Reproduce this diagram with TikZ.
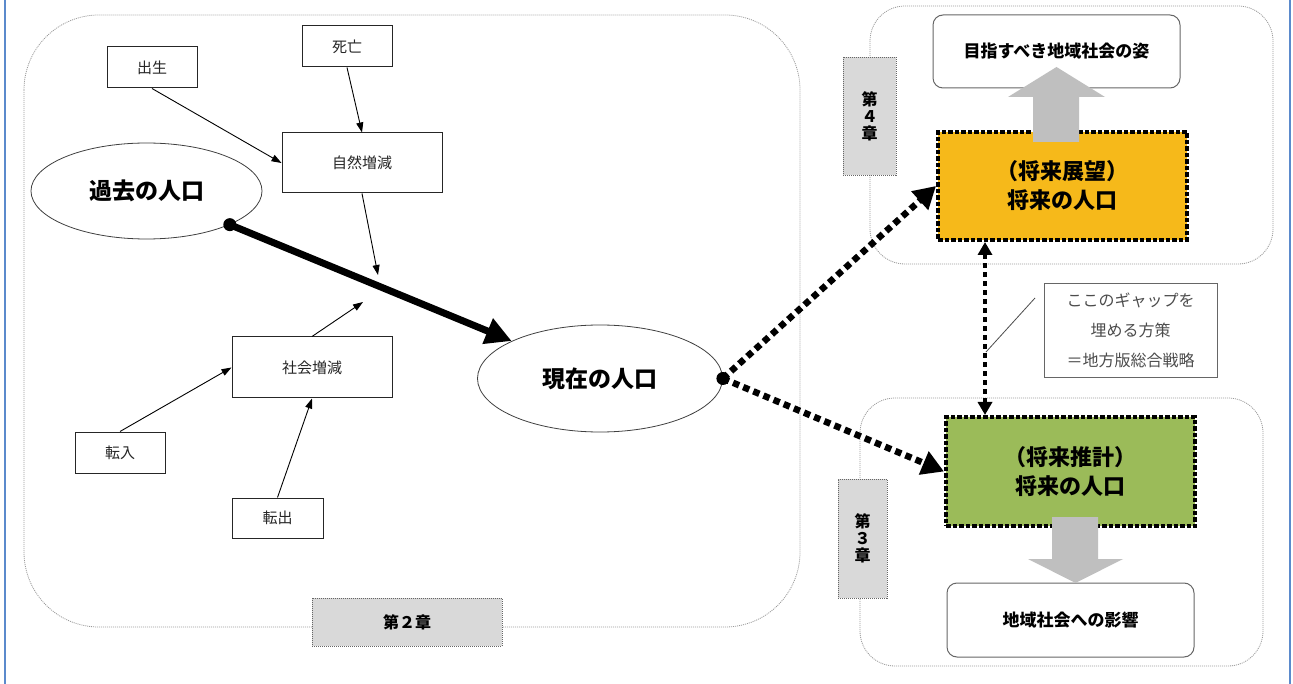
\documentclass[tikz,border=0pt]{standalone}
\usepackage{fontspec}
\setmainfont{Noto Sans CJK JP}
\usetikzlibrary{shapes.geometric,arrows.meta}
\definecolor{orangefill}{RGB}{246,185,26}
\definecolor{greenfill}{RGB}{155,187,89}
\definecolor{chapfill}{RGB}{217,217,217}
\definecolor{arrowgray}{RGB}{191,191,191}
\definecolor{sideblue}{RGB}{91,138,204}
\begin{document}
\begin{tikzpicture}[x=1pt,y=-1pt,
  panel/.style={draw=black!40, dash pattern=on 1pt off 1pt, line width=0.8pt, rounded corners=#1},
  lbl/.style={draw=black!85, line width=1pt, inner sep=0pt, text=black!85, font=\fontsize{15}{18}\selectfont},
  bigell/.style={ellipse, draw=black!75, line width=0.8pt, inner sep=0pt, font=\fontsize{23}{28}\selectfont\bfseries},
  chap/.style={fill=chapfill, draw=black!60, dash pattern=on 1pt off 1pt, line width=0.8pt, inner sep=0pt, font=\fontsize{16}{17}\selectfont\bfseries, align=center},
  goalbox/.style={draw=black!60, rounded corners=10pt, line width=1pt, inner sep=0pt, font=\fontsize{17}{20}\selectfont\bfseries},
  futurebox/.style={draw=black, line width=4pt, dash pattern=on 4.5pt off 2pt, inner sep=0pt, align=center, font=\fontsize{22}{29}\selectfont\bfseries},
  gapbox/.style={draw=black!60, line width=0.8pt, inner sep=0pt, align=center, text=black!70, font=\fontsize{16}{30}\selectfont},
  thinarr/.style={draw=black, line width=0.9pt, -{Triangle[length=10pt,width=7pt]}},
  thickarr/.style={draw=black, line width=7pt, -{Triangle[length=26pt,width=26pt]}},
  bigdot/.style={draw=black, line width=6.5pt, dash pattern=on 6.5pt off 4.5pt, -{Triangle[length=22pt,width=24pt]}},
  vdot/.style={draw=black, line width=4.5pt, dash pattern=on 5pt off 4pt, {Triangle[length=13pt,width=14pt]}-{Triangle[length=13pt,width=14pt]}}
]
\useasboundingbox (0,0) rectangle (1293,684);
\fill[white] (0,0) rectangle (1293,684);
\draw[sideblue, line width=2pt] (5,0) -- (5,684);
\draw[sideblue, line width=2pt] (1290,0) -- (1290,684);

% panels
\draw[panel=75pt] (24,15) rectangle (800,627);
\draw[panel=35pt] (870,6) rectangle (1273,264);
\draw[panel=35pt] (860,398) rectangle (1263,666);

% chapter labels
\node[chap, minimum width=190pt, minimum height=48pt] (ch2) at (407,622) {第２章};
\node[chap, minimum width=53pt, minimum height=118pt] (ch4) at (869.5,116) {第\\４\\章};
\node[chap, minimum width=49pt, minimum height=119pt] (ch3) at (862.5,538.5) {第\\３\\章};

% left part
\node[lbl, minimum width=90pt, minimum height=41pt] (birth) at (152,67.5) {出生};
\node[lbl, minimum width=90pt, minimum height=41pt] (death) at (347,46.5) {死亡};
\node[lbl, minimum width=160pt, minimum height=60pt] (natural) at (362,163) {自然増減};
\node[lbl, minimum width=160pt, minimum height=61pt] (social) at (312,367.5) {社会増減};
\node[lbl, minimum width=90pt, minimum height=41pt] (movein) at (120,452.5) {転入};
\node[lbl, minimum width=91pt, minimum height=40pt] (moveout) at (277.5,518) {転出};
\node[bigell, minimum width=231pt, minimum height=96pt] (past) at (146.5,191) {過去の人口};
\node[bigell, minimum width=245pt, minimum height=107pt] (present) at (600,378.5) {現在の人口};

\coordinate (join1) at (378,275);
\coordinate (join2) at (363,302);
\draw[thinarr] (birth.south) -- (natural.west);
\draw[thinarr] (death.south) -- (natural.north);
\draw[thinarr] (natural.south) -- (join1);
\draw[thinarr] (social.north) -- (join2);
\draw[thinarr] (movein.north) -- (social.west);
\draw[thinarr] (moveout.north) -- (social.south);

\fill (past.-22) circle (6.5pt);
\draw[thickarr] (past.-22) -- (present.157);

% right part
\node[goalbox, minimum width=247pt, minimum height=73pt] (goal) at (1056.5,51.5) {目指すべき地域社会の姿};
\node[futurebox, fill=orangefill, minimum width=249pt, minimum height=108pt] (vision) at (1062.5,186) {（将来展望）\\将来の人口};
\node[futurebox, fill=greenfill, minimum width=249pt, minimum height=109pt] (projection) at (1070.5,471.5) {（将来推計）\\将来の人口};
\node[goalbox, minimum width=247pt, minimum height=74pt] (impact) at (1070.5,620) {地域社会への影響};
\node[gapbox, minimum width=173pt, minimum height=94pt] (gap) at (1130.5,330) {ここのギャップを\\埋める方策\\＝地方版総合戦略};

\fill[arrowgray] (1033,142) -- (1033,97) -- (1008,97) -- (1056.5,67) -- (1105,97) -- (1079,97) -- (1079,142) -- cycle;
\fill[arrowgray] (1052,517) -- (1052,559) -- (1028,559) -- (1075.5,583) -- (1123,559) -- (1098,559) -- (1098,517) -- cycle;

\fill (present.east) circle (6.5pt);
\draw[bigdot] (present.east) -- (vision.west);
\draw[bigdot] (present.east) -- (projection.west);

\coordinate (gx) at (985,0);
\draw[vdot] (vision.south -| gx) -- (projection.north -| gx);

\coordinate (gp1) at (1035,298);
\coordinate (gp2) at (986,352);
\draw[black!70, line width=0.8pt] (gp1) -- (gp2);
\end{tikzpicture}
\end{document}
